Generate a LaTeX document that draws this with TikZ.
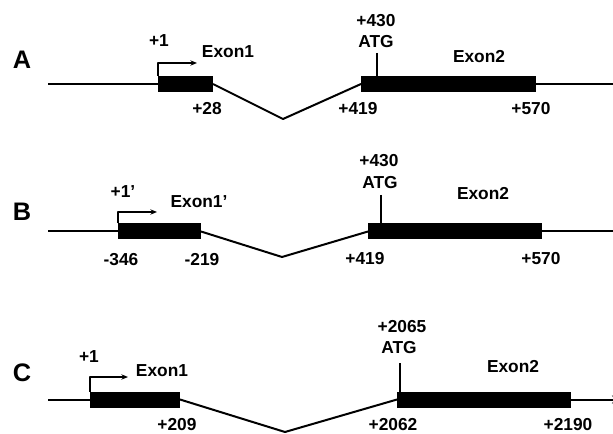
\documentclass[tikz,border=0pt]{standalone}
\usepackage{fontspec}
\setmainfont{Liberation Sans}
\usetikzlibrary{arrows.meta,positioning}

\begin{document}
\begin{tikzpicture}[x=0.75pt,y=-0.75pt,>=Stealth,line join=round,
  exon/.style={fill=black,draw=none,minimum height=12pt,inner sep=0pt,outer sep=0pt},
  lbl/.style={font=\bfseries\fontsize{13}{15}\selectfont,inner sep=0pt},
  panel/.style={font=\bfseries\fontsize{19}{21}\selectfont,inner sep=0pt},
  gene/.style={line width=1.5pt},
  tss/.style={line width=1pt,-{Stealth[length=5pt,width=4pt]}},
  atgtick/.style={line width=1.3pt}]
 \useasboundingbox (0,0) rectangle (613,434);

 % A
 \node[panel] (pA) at (22,60) {A};
 \node[exon,minimum width=41.25pt] (e1A) at (185.5,84) {};
 \node[exon,minimum width=131.25pt] (e2A) at (448.5,84) {};
 \coordinate (lA) at (48,84);
 \coordinate (rA) at (613,84);
 \coordinate (vA) at (283,119);
 \coordinate (tA) at (197,63);
 \coordinate (atgA) at (377,53);
 \draw[gene] (lA) -- (e1A.west);
 \draw[gene] (e1A.east) -- (vA) -- (e2A.west);
 \draw[gene] (e2A.east) -- (rA);
 \draw[tss] (e1A.north west) |- (tA);
 \draw[atgtick] (atgA) -- (atgA |- e2A.north);
 \node[lbl] (pos1A) at (159,41) {+1};
 \node[lbl] (nameA) at (228,52) {Exon1};
 \node[lbl] (pos28A) at (207,109) {+28};
 \node[lbl] (pos430A) at (376,21) {+430};
 \node[lbl] (atgtxtA) at (376,42) {ATG};
 \node[lbl] (ex2A) at (479,57) {Exon2};
 \node[lbl] (pos419A) at (358,109) {+419};
 \node[lbl] (pos570A) at (531,109) {+570};

 % B
 \node[panel] (pB) at (22,212) {B};
 \node[exon,minimum width=62.25pt] (e1B) at (159.5,231.5) {};
 \node[exon,minimum width=130.5pt] (e2B) at (455,231.5) {};
 \coordinate (lB) at (48,231.5);
 \coordinate (rB) at (613,231.5);
 \coordinate (vB) at (282,257);
 \coordinate (tB) at (157,212);
 \coordinate (atgB) at (381,195);
 \draw[gene] (lB) -- (e1B.west);
 \draw[gene] (e1B.east) -- (vB) -- (e2B.west);
 \draw[gene] (e2B.east) -- (rB);
 \draw[tss] (e1B.north west) |- (tB);
 \draw[atgtick] (atgB) -- (atgB |- e2B.north);
 \node[lbl] (pos1B) at (123,192) {+1’};
 \node[lbl] (nameB) at (199,202) {Exon1’};
 \node[lbl] (pos346B) at (121,260) {-346};
 \node[lbl] (pos219B) at (202,260) {-219};
 \node[lbl] (pos430B) at (379,161) {+430};
 \node[lbl] (atgtxtB) at (380,183) {ATG};
 \node[lbl] (ex2B) at (483,194) {Exon2};
 \node[lbl] (pos419B) at (365,259) {+419};
 \node[lbl] (pos570B) at (541,259) {+570};

 % C
 \node[panel] (pC) at (22,373) {C};
 \node[exon,minimum width=67.5pt] (e1C) at (135,399.5) {};
 \node[exon,minimum width=130.5pt] (e2C) at (484,399.5) {};
 \coordinate (lC) at (48,399.5);
 \coordinate (rC) at (620,399.5);
 \coordinate (vC) at (285,432);
 \coordinate (tC) at (128,377);
 \coordinate (atgC) at (400,363);
 \draw[gene] (lC) -- (e1C.west);
 \draw[gene] (e1C.east) -- (vC) -- (e2C.west);
 \draw[gene,-{Stealth[length=6pt,width=6pt]}] (e2C.east) -- (rC);
 \draw[tss] (e1C.north west) |- (tC);
 \draw[atgtick] (atgC) -- (atgC |- e2C.north);
 \node[lbl] (pos1C) at (89,357) {+1};
 \node[lbl] (nameC) at (162,371) {Exon1};
 \node[lbl] (pos209C) at (177,425) {+209};
 \node[lbl] (pos2065C) at (402,327) {+2065};
 \node[lbl] (atgtxtC) at (399,348) {ATG};
 \node[lbl] (ex2C) at (513,367) {Exon2};
 \node[lbl] (pos2062C) at (393,425) {+2062};
 \node[lbl] (pos2190C) at (568,425) {+2190};
\end{tikzpicture}
\end{document}
